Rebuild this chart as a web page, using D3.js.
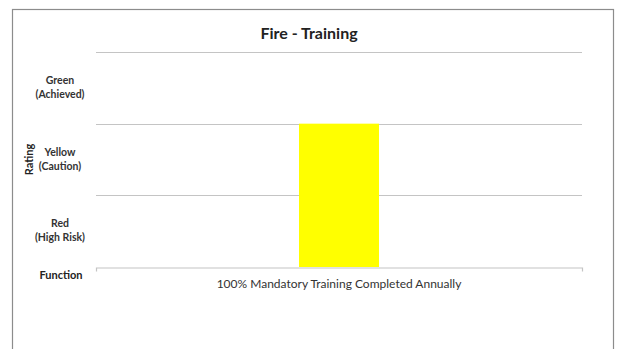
<!DOCTYPE html>
<html>
<head>
<meta charset="utf-8">
<script src="https://cdn.jsdelivr.net/npm/d3@7"></script>
<style>
  html, body { margin: 0; padding: 0; background: #fff; }
  svg { display: block; font-family: Lato, "Open Sans", sans-serif; }
</style>
</head>
<body>
<svg id="chart" width="618" height="349"></svg>
<script>
// Rating levels, from lowest to highest
const ratingNames = ["Red", "Yellow", "Green"];
const ratingNotes = ["(High Risk)", "(Caution)", "(Achieved)"];
// Functions assessed and their rating (number of levels reached)
const functions = ["100% Mandatory Training Completed Annually"];
const ratings = [2];
const barColors = ["#ffff00"];

const svg = d3.select("#chart");
const W = 618, H = 349;
const margin = { left: 96, right: 36, top: 52, bottom: 82 };

// Outer frame
svg.append("rect")
  .attr("x", 12.5).attr("y", 9.5)
  .attr("width", 601).attr("height", 345)
  .attr("fill", "#fff").attr("stroke", "#8c8c8c").attr("stroke-width", 1.2);

const x = d3.scaleBand()
  .domain(functions)
  .range([margin.left, W - margin.right])
  .paddingInner(0).paddingOuter(0);

const y = d3.scaleLinear()
  .domain([0, ratingNames.length])
  .range([H - margin.bottom, margin.top]);

// Horizontal gridlines at each level boundary
svg.append("g")
  .selectAll("line")
  .data(d3.range(1, ratingNames.length + 1))
  .join("line")
  .attr("x1", margin.left).attr("x2", W - margin.right)
  .attr("y1", d => Math.round(y(d)) + 0.5).attr("y2", d => Math.round(y(d)) + 0.5)
  .attr("stroke", "#c4c4c4").attr("stroke-width", 1.2);

// Bars
const barW = 80;
svg.append("g")
  .selectAll("rect")
  .data(functions)
  .join("rect")
  .attr("x", d => x(d) + x.bandwidth() / 2 - barW / 2)
  .attr("width", barW)
  .attr("y", (d, i) => y(ratings[i]))
  .attr("height", (d, i) => y(0) - y(ratings[i]))
  .attr("fill", (d, i) => barColors[i]);

// Category axis
const xAxis = svg.append("g")
  .attr("transform", `translate(0,${Math.round(y(0)) + 0.5})`)
  .call(d3.axisBottom(x).tickSize(0).tickSizeOuter(4).tickPadding(12));
xAxis.select(".domain").attr("stroke", "#c4c4c4").attr("stroke-width", 1.2);
xAxis.selectAll("text")
  .attr("font-size", 12).attr("fill", "#333")
  .attr("font-family", "Lato, 'Open Sans', sans-serif");

// Rating labels centred in each level band
const yLabels = svg.append("g");
ratingNames.forEach((name, i) => {
  const cy = y(i + 0.5);
  const t = yLabels.append("text")
    .attr("x", 60).attr("y", cy - 4)
    .attr("text-anchor", "middle")
    .attr("font-size", 10.5).attr("font-weight", "bold").attr("fill", "#333");
  t.append("tspan").attr("x", 60).attr("dy", 0).text(name);
  t.append("tspan").attr("x", 60).attr("dy", 14).text(ratingNotes[i]);
});

svg.append("text")
  .attr("x", 61).attr("y", 279)
  .attr("text-anchor", "middle")
  .attr("font-size", 11).attr("font-weight", "bold").attr("fill", "#222")
  .text("Function");

svg.append("text")
  .attr("transform", `translate(33,${y(1.5)}) rotate(-90)`)
  .attr("text-anchor", "middle")
  .attr("font-size", 11).attr("font-weight", "bold").attr("fill", "#222")
  .text("Rating");

// Title
svg.append("text")
  .attr("x", 309).attr("y", 39)
  .attr("text-anchor", "middle")
  .attr("font-size", 16).attr("font-weight", "bold").attr("fill", "#222")
  .text("Fire - Training");
</script>
</body>
</html>
